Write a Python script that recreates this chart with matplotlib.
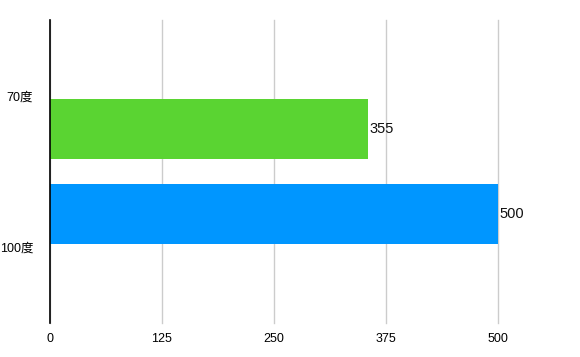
import matplotlib
matplotlib.use("Agg")
import matplotlib.pyplot as plt
import numpy as np

plt.rcParams['font.family'] = ['Liberation Sans', 'Noto Sans CJK SC', 'DejaVu Sans']

categories = ["70度", "100度"]
green_values = [355, 0]
blue_values = [0, 500]
x_ticks = [0, 125, 250, 375, 500]

fig = plt.figure(figsize=(5.8, 3.57), dpi=100)
ax = fig.add_axes([50/580, 1-323/357, 448/580, 303/357])

pos = np.arange(len(categories))
h = 0.396
off = 0.221
ax.barh(pos + off, green_values, height=h, color="#5AD432", zorder=3)
ax.barh(pos - off, blue_values, height=h, color="#0096FF", zorder=3)

for p, v in zip(pos + off, green_values):
    if v:
        ax.text(v + 2, p, str(v), va="center", ha="left", fontsize=10.5, color="#111111", clip_on=False)
for p, v in zip(pos - off, blue_values):
    if v:
        ax.text(v + 2, p, str(v), va="center", ha="left", fontsize=10.5, color="#111111", clip_on=False)

ax.set_xlim(0, 500)
ax.set_ylim(1.5, -0.5)
ax.set_yticks(pos)
ax.set_yticklabels(categories, fontsize=9)
ax.set_xticks(x_ticks)
ax.set_xticklabels([str(t) for t in x_ticks], fontsize=9)
ax.tick_params(axis='both', length=0)
ax.tick_params(axis='x', pad=7)
ax.tick_params(axis='y', pad=12)
ax.xaxis.grid(True, color="#cccccc", linewidth=1, zorder=0)
for gl in ax.get_xgridlines():
    gl.set_clip_on(False)
for s in ["top", "right", "bottom"]:
    ax.spines[s].set_visible(False)
ax.spines["left"].set_color("black")
ax.spines["left"].set_linewidth(1.2)
ax.spines["left"].set_zorder(4)

fig.savefig("out.png", dpi=100)
